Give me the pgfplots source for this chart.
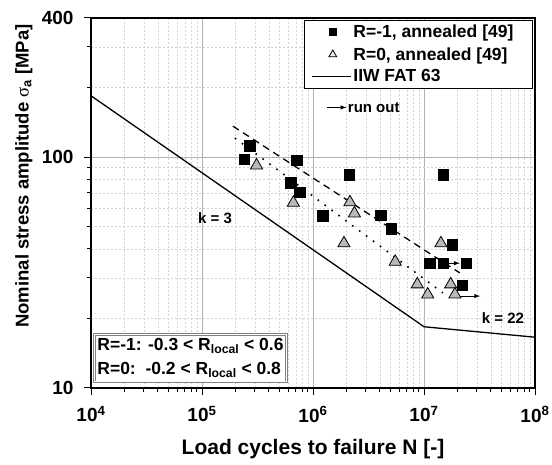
\documentclass[border=0pt]{standalone}
\usepackage{fontspec}
\setmainfont{Liberation Sans}
\newfontfamily\symf{Liberation Serif}
\usepackage{pgfplots}
\pgfplotsset{compat=1.18}
\pgfplotsset{
  mylineleg/.style={legend image code/.code={\draw[##1] (0pt,0pt) -- (39pt,0pt);}},
  mymarkleg/.style={legend image code/.code={\draw[##1] plot coordinates {(21pt,0pt)};}},
}
\pgfplotstableread{
N S
2.4e5 97.7
2.7e5 112
6.3e5 77.4
7.1e5 97
7.6e5 70.5
1.22e6 55.7
2.12e6 84
4.07e6 56
5.05e6 49
1.12e7 34.7
1.49e7 34.7
1.49e7 84
1.79e7 41.7
2.2e7 27.9
2.39e7 34.7
}\rminus
\pgfplotstableread{
N S
3.1e5 92
6.65e5 63.4
1.9e6 42.3
2.15e6 63.7
2.36e6 57
5.5e6 35.2
8.7e6 28.1
1.08e7 25.4
1.42e7 42.3
1.74e7 28.1
1.9e7 25.4
}\rzero
\begin{document}
\begin{tikzpicture}
\begin{axis}[
  at={(0,0)}, anchor=south west,
  scale only axis, width=444pt, height=370pt,
  xmode=log, ymode=log,
  xmin=1e4, xmax=1e8, ymin=10, ymax=400,
  xtick={1e4,1e5,1e6,1e7,1e8},
  xticklabels={10\textsuperscript{4},10\textsuperscript{5},10\textsuperscript{6},10\textsuperscript{7},10\textsuperscript{8}},
  minor xtick={2e4,3e4,4e4,5e4,6e4,7e4,8e4,9e4,2e5,3e5,4e5,5e5,6e5,7e5,8e5,9e5,2e6,3e6,4e6,5e6,6e6,7e6,8e6,9e6,2e7,3e7,4e7,5e7,6e7,7e7,8e7,9e7},
  ytick={10,100,400}, yticklabels={10,100,400},
  minor ytick={20,30,40,50,60,70,80,90,200,300},
  grid=both,
  major grid style={gray!60, line width=0.8pt},
  minor grid style={gray!35, dash pattern=on 2pt off 2pt, line width=0.6pt},
  axis line style={line width=1.4pt},
  tick style={black, line width=1pt},
  tick align=outside, tick pos=left,
  major tick length=7pt, minor tick length=4pt,
  ticklabel style={font=\fontsize{19}{19}\selectfont\bfseries},
  xticklabel style={yshift=-8pt},
  yticklabel style={xshift=-7pt},
  xlabel={Load cycles to failure N [-]},
  ylabel={Nominal stress amplitude {\symf\mdseries σ}\textsubscript{a} [MPa]},
  xlabel style={at={(axis description cs:0.5,-0.181)}, anchor=base, font=\fontsize{21}{22}\selectfont\bfseries},
  ylabel style={at={(axis description cs:-0.151,0.573)}, anchor=center, font=\fontsize{18.5}{20}\selectfont\bfseries},
  legend style={at={(rel axis cs:0.995,0.995)}, anchor=north east, draw=black, line width=0.8pt,
    font=\fontsize{17.5}{20}\selectfont\bfseries, inner xsep=7pt, inner ysep=3pt, row sep=4pt},
  legend cell align=left,
]
\addlegendimage{only marks, mark=square*, mark size=3.5pt, black, mymarkleg}
\addlegendentry{R=-1, annealed [49]\hspace*{10pt}}
\addlegendimage{only marks, mark=triangle*, mark size=4.5pt, draw=black, fill=gray!15, mymarkleg}
\addlegendentry{R=0, annealed [49]}
\addlegendimage{line width=1.2pt, black, mylineleg}
\addlegendentry{IIW FAT 63}

\addplot[forget plot, line width=1.3pt, black] coordinates {(1e4,184.2) (1e7,18.42) (1e8,16.59)};
\addplot[forget plot, line width=1.3pt, black, dash pattern=on 7pt off 5pt] coordinates {(1.9e5,136) (2.1e7,31.5)};
\addplot[forget plot, line width=1.6pt, black, dash pattern=on 1.6pt off 7pt] coordinates {(1.98e5,120.8) (1.48e7,25.8)};

\addplot[forget plot, only marks, mark=square*, mark size=5.3pt, black] table[x=N,y=S] {\rminus};
\addplot[forget plot, only marks, mark=triangle*, mark size=7pt, draw=black, fill=gray!55, mark options={line width=0.8pt}] table[x=N,y=S] {\rzero};

\draw[-latex, line width=1pt] (axis cs:1.68e7,34.7) -- (axis cs:2.1e7,34.7);
\draw[-latex, line width=1pt] (axis cs:2.1e7,25) -- (axis cs:3.2e7,25);
\draw[-latex, line width=1pt] (axis cs:1.34e6,164) -- (axis cs:2.0e6,164) node[right, inner sep=1pt, font=\fontsize{15}{15}\selectfont\bfseries] {run out};

\node[font=\fontsize{15}{15}\selectfont\bfseries] at (axis cs:1.31e5,54.5) {k = 3};
\node[font=\fontsize{15}{15}\selectfont\bfseries] at (axis cs:5.15e7,20.1) {k = 22};

\node[anchor=south west, draw=gray, double=white, double distance=1.2pt, line width=0.6pt, fill=white, align=left,
  font=\fontsize{17.5}{24}\selectfont\bfseries, inner xsep=3pt, inner ysep=4pt] at (rel axis cs:0.007,0.016)
  {R=-1: -0.3 < R\textsubscript{local} < 0.6\\R=0:\ \ -0.2 < R\textsubscript{local} < 0.8};
\end{axis}
\pgfresetboundingbox
\path[use as bounding box] (-91pt,-77pt) rectangle (461pt,388pt);
\end{tikzpicture}
\end{document}
